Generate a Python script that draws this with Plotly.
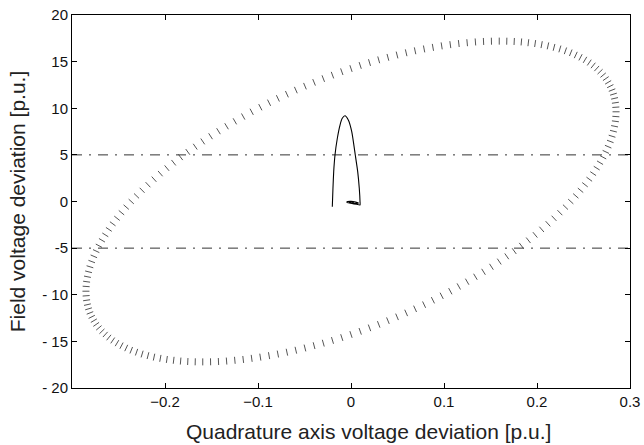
import numpy as np
import plotly.graph_objects as go

# ---- data ----
x_ell = [
    0.2850, 0.2848, 0.2843, 0.2834, 0.2822, 0.2807, 0.2788, 0.2765, 0.2740, 0.2711,
    0.2678, 0.2642, 0.2604, 0.2562, 0.2516, 0.2468, 0.2417, 0.2363, 0.2306, 0.2246,
    0.2183, 0.2118, 0.2050, 0.1980, 0.1907, 0.1832, 0.1755, 0.1675, 0.1594, 0.1510,
    0.1425, 0.1338, 0.1249, 0.1159, 0.1068, 0.0975, 0.0881, 0.0786, 0.0689, 0.0593,
    0.0495, 0.0397, 0.0298, 0.0199, 0.0099, 0.0000,
    -0.0099, -0.0199, -0.0298, -0.0397, -0.0495, -0.0593, -0.0689, -0.0786, -0.0881, -0.0975,
    -0.1068, -0.1159, -0.1249, -0.1338, -0.1425, -0.1510, -0.1594, -0.1675, -0.1755, -0.1832,
    -0.1907, -0.1980, -0.2050, -0.2118, -0.2183, -0.2246, -0.2306, -0.2363, -0.2417, -0.2468,
    -0.2516, -0.2562, -0.2604, -0.2642, -0.2678, -0.2711, -0.2740, -0.2765, -0.2788, -0.2807,
    -0.2822, -0.2834, -0.2843, -0.2848, -0.2850,
    -0.2848, -0.2843, -0.2834, -0.2822, -0.2807, -0.2788, -0.2765, -0.2740, -0.2711, -0.2678,
    -0.2642, -0.2604, -0.2562, -0.2516, -0.2468, -0.2417, -0.2363, -0.2306, -0.2246, -0.2183,
    -0.2118, -0.2050, -0.1980, -0.1907, -0.1832, -0.1755, -0.1675, -0.1594, -0.1510, -0.1425,
    -0.1338, -0.1249, -0.1159, -0.1068, -0.0975, -0.0881, -0.0786, -0.0689, -0.0593, -0.0495,
    -0.0397, -0.0298, -0.0199, -0.0099, 0.0000,
    0.0099, 0.0199, 0.0298, 0.0397, 0.0495, 0.0593, 0.0689, 0.0786, 0.0881, 0.0975,
    0.1068, 0.1159, 0.1249, 0.1338, 0.1425, 0.1510, 0.1594, 0.1675, 0.1755, 0.1832,
    0.1907, 0.1980, 0.2050, 0.2118, 0.2183, 0.2246, 0.2306, 0.2363, 0.2417, 0.2468,
    0.2516, 0.2562, 0.2604, 0.2642, 0.2678, 0.2711, 0.2740, 0.2765, 0.2788, 0.2807,
    0.2822, 0.2834, 0.2843, 0.2848,
]
y_ell = [
    9.62, 10.11, 10.59, 11.06, 11.51, 11.95, 12.37, 12.78, 13.18, 13.55,
    13.92, 14.26, 14.59, 14.90, 15.19, 15.46, 15.71, 15.95, 16.16, 16.36,
    16.53, 16.69, 16.82, 16.94, 17.03, 17.11, 17.16, 17.19,
    17.20, 17.19, 17.16, 17.11, 17.03, 16.94, 16.82, 16.69, 16.53, 16.36,
    16.16, 15.95, 15.71, 15.46, 15.19, 14.90, 14.59, 14.26, 13.92, 13.55,
    13.18, 12.78, 12.37, 11.95, 11.51, 11.06, 10.59, 10.11, 9.62, 9.11,
    8.60, 8.07, 7.54, 7.00, 6.44, 5.88, 5.32, 4.74, 4.16, 3.58,
    2.99, 2.39, 1.80, 1.20, 0.60, 0.00,
    -0.60, -1.20, -1.80, -2.39, -2.99, -3.58, -4.16, -4.74, -5.32, -5.88,
    -6.44, -7.00, -7.54, -8.07, -8.60, -9.11, -9.62, -10.11, -10.59, -11.06,
    -11.51, -11.95, -12.37, -12.78, -13.18, -13.55, -13.92, -14.26, -14.59, -14.90,
    -15.19, -15.46, -15.71, -15.95, -16.16, -16.36, -16.53, -16.69, -16.82, -16.94,
    -17.03, -17.11, -17.16, -17.19, -17.20,
    -17.19, -17.16, -17.11, -17.03, -16.94, -16.82, -16.69, -16.53, -16.36, -16.16,
    -15.95, -15.71, -15.46, -15.19, -14.90, -14.59, -14.26, -13.92, -13.55, -13.18,
    -12.78, -12.37, -11.95, -11.51, -11.06, -10.59, -10.11, -9.62, -9.11, -8.60,
    -8.07, -7.54, -7.00, -6.44, -5.88, -5.32, -4.74, -4.16, -3.58, -2.99,
    -2.39, -1.80, -1.20, -0.60, 0.00,
    0.60, 1.20, 1.80, 2.39, 2.99, 3.58, 4.16, 4.74, 5.32, 5.88,
    6.44, 7.00, 7.54, 8.07, 8.60, 9.11,
]

x_traj = [-0.0201, -0.0194, -0.0186, -0.0172, -0.0147, -0.0118, -0.0094, -0.0065,
          -0.0029, 0.0008, 0.0046, 0.0072, 0.0089, 0.0097, 0.0097,
          0.0060, 0.0010, -0.0040, -0.0045, 0.0000, 0.0050, 0.0080, 0.0040,
          -0.0020, 0.0010, 0.0030]
y_traj = [-0.56, 1.42, 3.20, 4.99, 6.78, 8.20, 8.92, 9.20,
          8.74, 7.49, 4.99, 3.20, 1.42, -0.02, -0.38,
          -0.30, -0.20, -0.12, -0.02, 0.02, -0.05, -0.15, -0.20,
          -0.10, -0.05, -0.10]

limit_levels = [5, -5]
x_range = [-0.3, 0.3]
y_range = [-20, 20]
x_ticks = [-0.2, -0.1, 0, 0.1, 0.2, 0.3]
x_tick_text = ["\u22120.2", "\u22120.1", "0", "0.1", "0.2", "0.3"]
y_ticks = [-20, -15, -10, -5, 0, 5, 10, 15, 20]
y_tick_text = ["- 20", "- 15", "- 10", "-5", "0", "5", "10", "15", "20"]
x_title = "Quadrature axis voltage deviation [p.u.]"
y_title = "Field voltage deviation [p.u.]"

# ---- layout geometry ----
W, H = 644, 445
ml, mr, mt, mb = 72, 14, 15, 57
pw, ph = W - ml - mr, H - mt - mb
sx = pw / (x_range[1] - x_range[0])
sy = ph / (y_range[1] - y_range[0])

# dash orientation: perpendicular to the curve (in screen space)
xe = np.array(x_ell)
ye = np.array(y_ell)
dx = (np.roll(xe, -1) - np.roll(xe, 1)) * sx
dy = (np.roll(ye, -1) - np.roll(ye, 1)) * sy
theta = np.degrees(np.arctan2(dy, dx))
angles = (-theta).tolist()

FONT = "Liberation Sans, Arial, Helvetica"

fig = go.Figure()

for lv in limit_levels:
    fig.add_trace(go.Scatter(
        x=x_range, y=[lv, lv], mode="lines",
        line=dict(color="#333333", width=1, dash="10px,7px,2px,7px"),
        hoverinfo="skip", showlegend=False))

fig.add_trace(go.Scatter(
    x=x_ell, y=y_ell, mode="markers",
    marker=dict(symbol="line-ns", size=5, angle=angles,
                line=dict(color="#2a2a2a", width=0.8)),
    showlegend=False))

fig.add_trace(go.Scatter(
    x=x_traj, y=y_traj, mode="lines",
    line=dict(color="black", width=1.1, shape="spline", smoothing=0.6),
    showlegend=False))

axis_common = dict(
    showgrid=False, zeroline=False, showline=True, linecolor="black",
    linewidth=1, mirror="ticks", ticks="inside", ticklen=5, tickwidth=1,
    tickcolor="black", automargin=False,
    tickfont=dict(family=FONT, size=15, color="#111"),
)

fig.update_layout(
    width=W, height=H,
    margin=dict(l=ml, r=mr, t=mt, b=mb, autoexpand=False),
    paper_bgcolor="white", plot_bgcolor="white",
    xaxis=dict(range=x_range, tickvals=x_ticks, ticktext=x_tick_text, **axis_common),
    yaxis=dict(range=y_range, tickvals=y_ticks, ticktext=y_tick_text,
               title=dict(text=y_title,
                          font=dict(family=FONT, size=21, color="#222"),
                          standoff=10),
               **axis_common),
    annotations=[dict(
        text=x_title, xref="paper", yref="paper", x=0.531, y=0,
        xanchor="center", yanchor="top", yshift=-30, showarrow=False,
        font=dict(family=FONT, size=21, color="#222"))],
)

fig.write_html("out.html", config={"displayModeBar": False},
               post_script="document.body.style.margin='0';document.body.style.overflow='hidden';")
